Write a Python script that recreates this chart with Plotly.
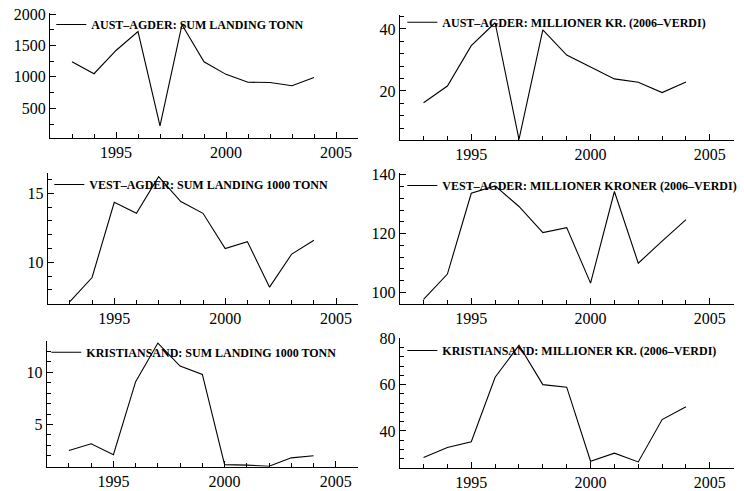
import plotly.graph_objects as go

# ---- data ----
years = [1993, 1994, 1995, 1996, 1997, 1998, 1999, 2000, 2001, 2002, 2003, 2004]
aa_tonn = [1240, 1050, 1420, 1720, 220, 1830, 1240, 1040, 915, 910, 860, 990]
aa_kr = [16.2, 21.6, 34.6, 42.0, 4.4, 39.7, 31.6, 27.8, 23.9, 22.8, 19.5, 22.9]
va_tonn = [7.15, 8.9, 14.35, 13.55, 16.2, 14.4, 13.55, 11.0, 11.5, 8.2, 10.6, 11.6]
va_kr = [97.6, 106.2, 133.7, 136.2, 129.2, 120.3, 122.0, 103.1, 134.3, 109.9, 117.4, 124.7]
kr_tonn = [2.5, 3.15, 2.1, 9.1, 12.8, 10.6, 9.8, 1.15, 1.1, 1.0, 1.8, 2.0]
kr_kr = [28.5, 32.8, 35.3, 63.2, 77.0, 60.0, 58.9, 26.9, 30.4, 26.6, 44.9, 50.4]

labels = [
    "AUST\u2013AGDER: SUM LANDING TONN",
    "AUST\u2013AGDER: MILLIONER KR. (2006\u2013VERDI)",
    "VEST\u2013AGDER: SUM LANDING 1000 TONN",
    "VEST\u2013AGDER: MILLIONER KRONER (2006\u2013VERDI)",
    "KRISTIANSAND: SUM LANDING 1000 TONN",
    "KRISTIANSAND: MILLIONER KR. (2006\u2013VERDI)",
]
series = [aa_tonn, aa_kr, va_tonn, va_kr, kr_tonn, kr_kr]

# ---- layout settings ----
W, H = 744, 491
# panel boxes in pixels: (x0, x1, ytop, ybottom)
boxes = [
    (50, 358, 13, 138),
    (399.7, 733.7, 15, 140),
    (47.7, 358.3, 173.3, 304),
    (399.7, 733.7, 173, 304),
    (46.7, 358, 341, 466.7),
    (399.7, 733.7, 337.7, 467.7),
]
yranges = [(28, 2016), (4.2, 44.5), (6.98, 16.45), (96.0, 140.6), (0.95, 13.0), (24.1, 80.3)]
ydticks = [(500, 250), (20, 4), (5, 1), (20, 4), (5, 1), (20, 4)]
# legend text-start and center in pixels
legpos = [(89.3, 24), (440.3, 21.7), (87.3, 184), (440.3, 185), (84.3, 351.7), (440.3, 350)]

FONT = "Liberation Serif"
fig = go.Figure()
layout = dict(
    template="none",
    width=W, height=H, margin=dict(l=0, r=0, t=0, b=0, autoexpand=False),
    paper_bgcolor="white", plot_bgcolor="white",
    font=dict(family=FONT, size=16, color="black"),
)

for i, (vals, lab) in enumerate(zip(series, labels)):
    n = "" if i == 0 else str(i + 1)
    legname = "legend" + n
    fig.add_trace(go.Scatter(
        x=years, y=vals, mode="lines", name=lab,
        line=dict(color="black", width=1.1),
        xaxis="x" + n, yaxis="y" + n, legend=legname, showlegend=True,
    ))
    x0, x1, yt, yb = boxes[i]
    common = dict(
        showline=True, linecolor="black", linewidth=1, showgrid=False, zeroline=False,
        ticks="inside", ticklen=6, tickwidth=1.2, tickcolor="black", automargin=False,
        tickfont=dict(family=FONT, size=16, color="black"), tickformat="d",
    )
    layout["xaxis" + n] = dict(
        common, domain=[x0 / W, x1 / W], range=[1992, 2006], anchor="y" + n,
        tickmode="linear", tick0=1995, dtick=5,
        minor=dict(ticks="inside", ticklen=4, dtick=1, tick0=1995, tickcolor="black",
                   tickwidth=1.2, showgrid=False),
    )
    d, md = ydticks[i]
    layout["yaxis" + n] = dict(
        common, domain=[1 - yb / H, 1 - yt / H], range=list(yranges[i]), anchor="x" + n,
        tickmode="linear", tick0=0, dtick=d,
        minor=dict(ticks="inside", ticklen=4, dtick=md, tick0=0, tickcolor="black",
                   tickwidth=1.2, showgrid=False),
    )
    tx, ly = legpos[i]
    layout[legname] = dict(
        x=(tx - 38) / W, y=1 - (ly - 14) / H, xanchor="left", yanchor="top",
        bgcolor="rgba(0,0,0,0)", borderwidth=0,
        font=dict(family=FONT, size=12, color="black", weight="bold"),
        itemwidth=30,
    )

fig.update_layout(**layout)
fig.write_html("out.html")
